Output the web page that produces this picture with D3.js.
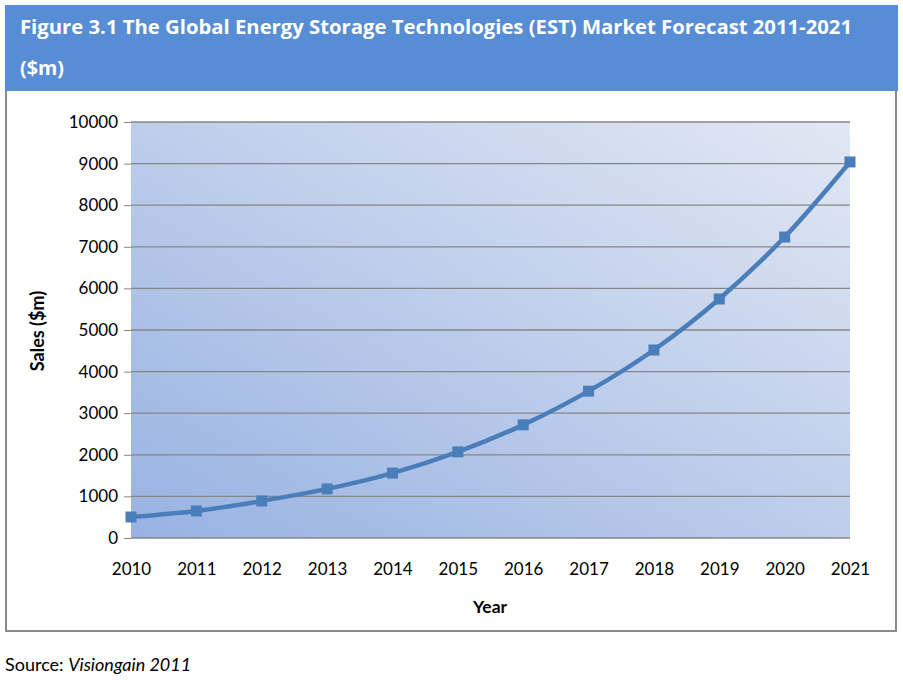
<!DOCTYPE html>
<html><head><meta charset="utf-8">
<script src="https://cdn.jsdelivr.net/npm/d3@7"></script>
<style>body{margin:0;background:#fff}svg{display:block}</style>
</head><body>
<script>
const years = [2010,2011,2012,2013,2014,2015,2016,2017,2018,2019,2020,2021];
const sales = [505,650,890,1180,1560,2070,2720,3530,4520,5745,7235,9040];
const yTicks = [0,1000,2000,3000,4000,5000,6000,7000,8000,9000,10000];
const titleLines = ["Figure 3.1 The Global Energy Storage Technologies (EST) Market Forecast 2011-2021","($m)"];

const W=903,H=683;
const svg=d3.select("body").append("svg").attr("width",W).attr("height",H);
const defs=svg.append("defs");
const g=defs.append("linearGradient").attr("id","bg").attr("x1","0%").attr("y1","100%").attr("x2","100%").attr("y2","0%");
g.append("stop").attr("offset","0%").attr("stop-color","#98b2e2");
g.append("stop").attr("offset","100%").attr("stop-color","#e2e8f4");

// outer frame
svg.append("rect").attr("x",6).attr("y",90).attr("width",890).attr("height",541)
  .attr("fill","#fff").attr("stroke","#8a8a8a").attr("stroke-width",2);
// title bar
svg.append("rect").attr("x",5).attr("y",5).attr("width",893).attr("height",86).attr("fill","#568dd4");
svg.append("text").attr("x",20).attr("y",34).attr("fill","#fff").attr("font-family","Open Sans, sans-serif")
  .attr("font-weight","bold").attr("font-size",20).attr("textLength",832).attr("lengthAdjust","spacingAndGlyphs").text(titleLines[0]);
svg.append("text").attr("x",20).attr("y",75).attr("fill","#fff").attr("font-family","Open Sans, sans-serif")
  .attr("font-weight","bold").attr("font-size",20).attr("textLength",44).attr("lengthAdjust","spacingAndGlyphs").text(titleLines[1]);

const x=d3.scalePoint().domain(years).range([131,850]);
const y=d3.scaleLinear().domain([0,10000]).range([538,122]);

svg.append("rect").attr("x",131).attr("y",122).attr("width",719).attr("height",416).attr("fill","url(#bg)");

const ya=svg.append("g").attr("transform","translate(131,0)")
  .call(d3.axisLeft(y).tickValues(yTicks).tickSize(7).tickPadding(6).tickFormat(d3.format("d")));
ya.select(".domain").remove();
ya.selectAll("line").attr("stroke","#868686");
ya.selectAll("text").attr("font-family","Lato, sans-serif").attr("font-size",17).attr("fill","#000");
// gridlines
svg.append("g").selectAll("line").data(yTicks).join("line")
  .attr("x1",131).attr("x2",850).attr("y1",d=>y(d)).attr("y2",d=>y(d))
  .attr("stroke","#868686").attr("stroke-width",1.3);

const xa=svg.append("g").attr("transform","translate(0,538)")
  .call(d3.axisBottom(x).tickSize(0).tickPadding(25));
xa.select(".domain").remove();
xa.selectAll("text").attr("font-family","Lato, sans-serif").attr("font-size",17).attr("fill","#000");

svg.append("path").datum(sales.map((v,i)=>[years[i],v]))
  .attr("d",d3.line().x(d=>x(d[0])).y(d=>y(d[1])).curve(d3.curveMonotoneX))
  .attr("fill","none").attr("stroke","#4a7ebb").attr("stroke-width",4.5);
svg.append("g").selectAll("rect").data(sales).join("rect")
  .attr("x",(d,i)=>x(years[i])-5.5).attr("y",d=>y(d)-5.5).attr("width",11).attr("height",11).attr("fill","#4a7ebb");

svg.append("text").attr("transform","translate(44,331) rotate(-90)").attr("text-anchor","middle")
  .attr("font-family","Lato, sans-serif").attr("font-weight","bold").attr("font-size",18).text("Sales ($m)");
svg.append("text").attr("x",490).attr("y",613).attr("text-anchor","middle")
  .attr("font-family","Lato, sans-serif").attr("font-weight","bold").attr("font-size",17.5).text("Year");

const src=svg.append("text").attr("x",5).attr("y",671).attr("font-family","Lato, sans-serif").attr("font-size",18);
src.append("tspan").text("Source: ");
src.append("tspan").attr("font-style","italic").text("Visiongain 2011");
</script>
</body></html>
